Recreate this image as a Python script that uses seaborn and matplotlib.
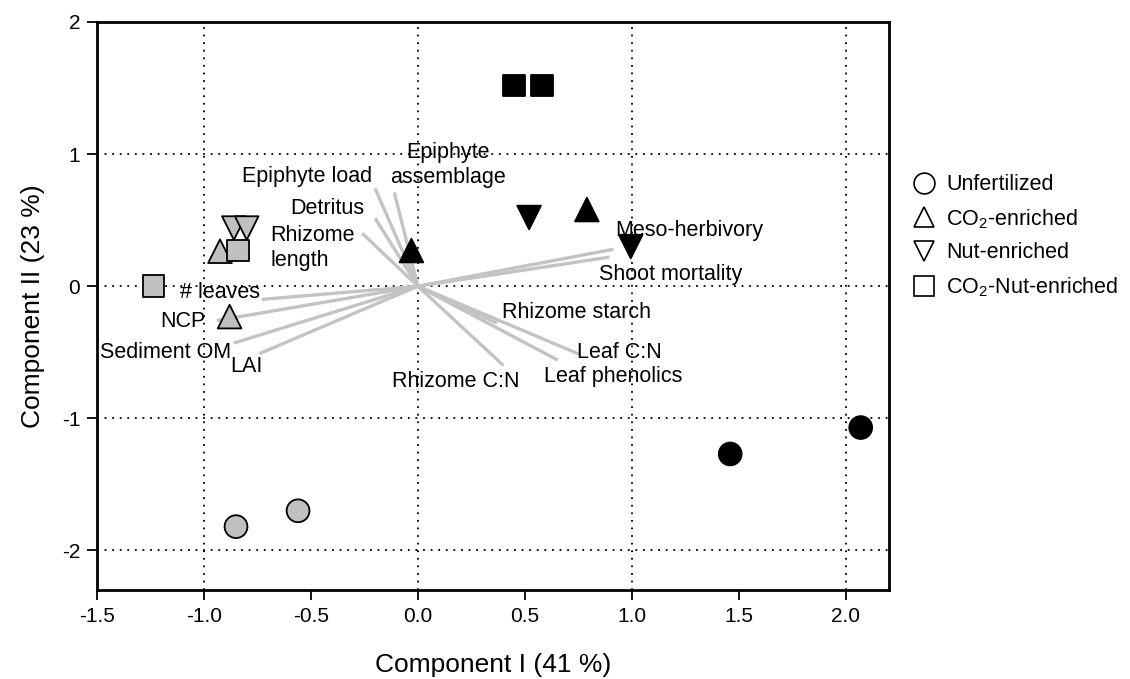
import matplotlib
matplotlib.use("Agg")
import matplotlib.pyplot as plt
from matplotlib.lines import Line2D
import seaborn as sns
import pandas as pd

# ---- site scores ----
pt_x = [0.45, 0.58, -1.235, -0.84,          # squares (black, gray)
        -0.03, 0.79, -0.925, -0.88,          # up triangles
        0.52, 0.995, -0.86, -0.80,           # down triangles
        1.46, 2.07, -0.85, -0.56]            # circles
pt_y = [1.52, 1.52, 0.0, 0.27,
        0.27, 0.58, 0.265, -0.23,
        0.52, 0.30, 0.44, 0.44,
        -1.27, -1.07, -1.82, -1.70]
pt_treat = ["CO2-Nut", "CO2-Nut", "CO2-Nut", "CO2-Nut",
            "CO2", "CO2", "CO2", "CO2",
            "Nut", "Nut", "Nut", "Nut",
            "Unfert", "Unfert", "Unfert", "Unfert"]
pt_shade = ["dark", "dark", "light", "light"] * 4

# ---- variable loadings (vector end points) ----
var_names = ["Epiphyte load", "Epiphyte\nassemblage", "Detritus", "Rhizome\nlength",
             "# leaves", "NCP", "Sediment OM", "LAI",
             "Meso-herbivory", "Shoot mortality", "Rhizome starch",
             "Leaf C:N", "Leaf phenolics", "Rhizome C:N"]
var_x = [-0.20, -0.11, -0.20, -0.26, -0.73, -0.94, -0.86, -0.74,
         0.915, 0.895, 0.37, 0.755, 0.655, 0.40]
var_y = [0.74, 0.71, 0.515, 0.40, -0.10, -0.26, -0.43, -0.51,
         0.28, 0.22, -0.28, -0.515, -0.56, -0.60]
lab_x = [-0.52, 0.14, -0.425, -0.69, -0.925, -1.10, -1.18, -0.80,
         1.27, 1.18, 0.74, 0.94, 0.915, 0.175]
lab_y = [0.83, 0.92, 0.59, 0.29, -0.045, -0.265, -0.50, -0.61,
         0.42, 0.09, -0.20, -0.50, -0.68, -0.72]
lab_ha = ["center", "center", "center", "left", "center", "center", "center", "center",
          "center", "center", "center", "center", "center", "center"]

legend_labels = ["Unfertilized", "CO$_2$-enriched", "Nut-enriched", "CO$_2$-Nut-enriched"]

sns.set_theme(style="white")
plt.rcParams["font.family"] = ["Liberation Sans", "DejaVu Sans"]
plt.rcParams["mathtext.fontset"] = "custom"
plt.rcParams["mathtext.rm"] = "Liberation Sans"
plt.rcParams["text.color"] = "black"
plt.rcParams["axes.labelcolor"] = "black"

df = pd.DataFrame({"x": pt_x, "y": pt_y, "treat": pt_treat, "shade": pt_shade})

fig = plt.figure(figsize=(11.3, 6.79), dpi=100)
ax = fig.add_axes([0.0858, 0.131, 0.7005, 0.8366])

# grid
for gx in [-1, 0, 1, 2]:
    ax.axvline(gx, color="black", lw=1.3, ls=(0, (1, 3.2)), zorder=0)
for gy in [-2, -1, 0, 1]:
    ax.axhline(gy, color="black", lw=1.3, ls=(0, (1, 3.2)), zorder=0)

# vectors
for vx, vy in zip(var_x, var_y):
    ax.plot([0, vx], [0, vy], color="#c3c3c3", lw=2.4, solid_capstyle="butt", zorder=1)
for name, tx, ty, ha in zip(var_names, lab_x, lab_y, lab_ha):
    ax.text(tx, ty, name, ha=ha, va="center", fontsize=15.5, color="black",
            linespacing=1.25, zorder=3)

markers = {"Unfert": "o", "CO2": "^", "Nut": "v", "CO2-Nut": "s"}
sizes = {"Unfert": 270, "CO2": 290, "Nut": 290, "CO2-Nut": 240}
for t, m in markers.items():
    sub = df[df.treat == t]
    sns.scatterplot(data=sub, x="x", y="y", hue="shade",
                    palette={"dark": "black", "light": "#c0c0c0"},
                    marker=m, s=sizes[t], edgecolor="black", linewidth=1.3,
                    legend=False, ax=ax, zorder=4)

ax.set_xlim(-1.5, 2.2)
ax.set_ylim(-2.3, 2.0)
ax.set_xticks([-1.5, -1.0, -0.5, 0.0, 0.5, 1.0, 1.5, 2.0])
ax.set_xticklabels(["-1.5", "-1.0", "-0.5", "0.0", "0.5", "1.0", "1.5", "2.0"])
ax.set_yticks([-2, -1, 0, 1, 2])
ax.set_yticklabels(["-2", "-1", "0", "1", "2"])
ax.tick_params(axis="both", direction="out", length=7, width=1.3, color="black",
               labelsize=15, labelcolor="black", bottom=True, left=True, pad=5)
for s in ax.spines.values():
    s.set_color("black")
    s.set_linewidth(2)
ax.set_xlabel("Component I (41 %)", fontsize=19, color="black", labelpad=20)
ax.set_ylabel("Component II (23 %)", fontsize=19, color="black", labelpad=12)

handles = [Line2D([], [], ls="none", marker=mk, markersize=15, markerfacecolor="white",
                  markeredgecolor="black", markeredgewidth=1.2)
           for mk in ["o", "^", "v", "s"]]
fig.legend(handles, legend_labels, loc="upper left", bbox_to_anchor=(0.789, 0.772),
           frameon=False, fontsize=15.5, handletextpad=0.45, labelspacing=0.55,
           handlelength=1.2, labelcolor="black")

fig.savefig("out.png", dpi=100)
